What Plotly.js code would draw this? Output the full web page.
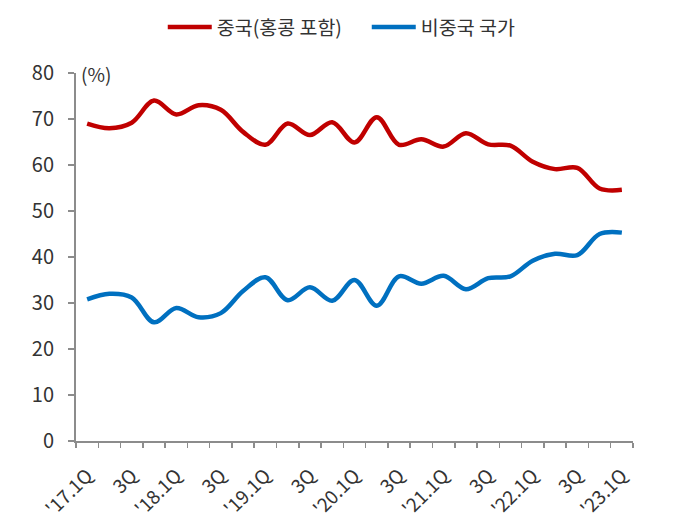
<!DOCTYPE html>
<html>
<head>
<meta charset="utf-8">
<script src="https://cdn.plot.ly/plotly-3.0.1.min.js"></script>
<style>
html,body{margin:0;padding:0;background:#fff;}
#chart{width:683px;height:527px;}
</style>
</head>
<body>
<div id="chart"></div>
<script>
var quarters = ["'17.1Q","'17.2Q","'17.3Q","'17.4Q",
                "'18.1Q","'18.2Q","'18.3Q","'18.4Q",
                "'19.1Q","'19.2Q","'19.3Q","'19.4Q",
                "'20.1Q","'20.2Q","'20.3Q","'20.4Q",
                "'21.1Q","'21.2Q","'21.3Q","'21.4Q",
                "'22.1Q","'22.2Q","'22.3Q","'22.4Q",
                "'23.1Q"];
var tickLabels = ["'17.1Q","","3Q","",
                  "'18.1Q","","3Q","",
                  "'19.1Q","","3Q","",
                  "'20.1Q","","3Q","",
                  "'21.1Q","","3Q","",
                  "'22.1Q","","3Q","",
                  "'23.1Q"];
var chinaName = "중국(홍콩 포함)";
var nonChinaName = "비중국 국가";
var chinaShare = [69.0, 68.0, 69.2, 74.0, 71.0, 73.0, 72.0, 67.2, 64.4, 69.0, 66.5, 69.3, 64.9,
                  70.4, 64.4, 65.6, 64.0, 66.9, 64.5, 64.2, 60.7, 59.1, 59.4, 54.9, 54.6];
var nonChinaShare = [30.8, 32.0, 31.2, 25.8, 28.9, 26.9, 27.8, 32.6, 35.6, 30.6, 33.4, 30.5, 35.0,
                     29.4, 35.8, 34.2, 35.9, 33.0, 35.4, 35.8, 39.2, 40.7, 40.4, 45.0, 45.3];

var fontFam = "'Noto Sans CJK KR', 'Noto Sans', sans-serif";
var axisGray = '#8c8c8c';

var traces = [
  {x: quarters, y: chinaShare, name: chinaName, type: 'scatter', mode: 'lines',
   line: {color: '#C00000', width: 4.5, shape: 'spline', smoothing: 1}},
  {x: quarters, y: nonChinaShare, name: nonChinaName, type: 'scatter', mode: 'lines',
   line: {color: '#0070C0', width: 4.5, shape: 'spline', smoothing: 1}}
];

var layout = {
  width: 683, height: 527,
  margin: {l: 76, r: 50, t: 73, b: 86, autoexpand: false},
  paper_bgcolor: '#fff', plot_bgcolor: '#fff',
  font: {family: fontFam, color: '#333', size: 19},
  showlegend: true,
  legend: {orientation: 'h', x: 0.522, xanchor: 'center', y: 1.124, yanchor: 'middle',
           font: {family: fontFam, size: 19.5, color: '#333'}, itemwidth: 44, entrywidth: 145,
           traceorder: 'normal'},
  xaxis: {
    type: 'category', range: [-0.5, 24.5],
    tickmode: 'array', tickvals: quarters, ticktext: tickLabels,
    tickson: 'boundaries', ticks: 'outside', ticklen: 5, tickcolor: axisGray, tickwidth: 1.5,
    showline: true, linecolor: axisGray, linewidth: 2,
    showgrid: false, zeroline: false, tickangle: -45, ticklabelstandoff: 14,
    tickfont: {family: fontFam, size: 19, color: '#333'}
  },
  yaxis: {
    range: [0, 80], dtick: 10, tick0: 0,
    ticks: 'outside', ticklen: 6, tickcolor: axisGray, tickwidth: 1.5,
    showline: true, linecolor: axisGray, linewidth: 2,
    showgrid: false, zeroline: false, ticklabelstandoff: 10,
    tickfont: {family: fontFam, size: 20, color: '#333'}
  },
  annotations: [
    {xref: 'paper', yref: 'y', x: 0, y: 80, xanchor: 'left', yanchor: 'middle',
     xshift: 3, text: '(%)', showarrow: false, font: {family: fontFam, size: 19, color: '#333'}}
  ]
};

Plotly.newPlot('chart', traces, layout, {displayModeBar: false, staticPlot: true});
</script>
</body>
</html>
